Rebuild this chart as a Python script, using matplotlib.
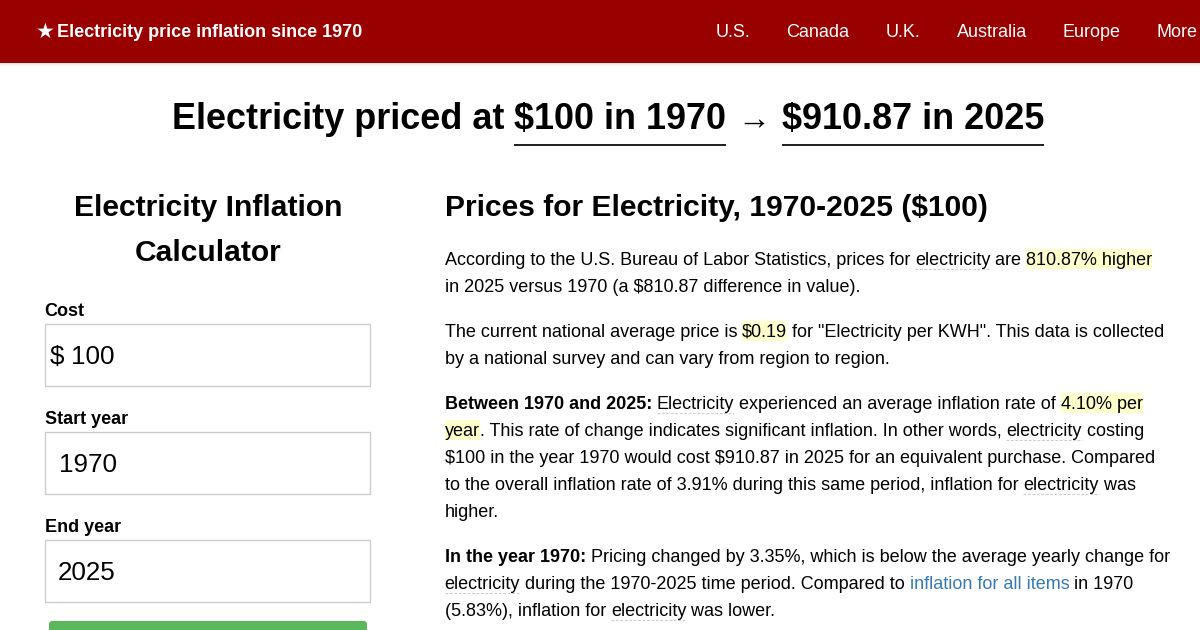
import matplotlib
matplotlib.use("Agg")
import matplotlib.pyplot as plt
from matplotlib.patches import Rectangle, FancyBboxPatch

plt.rcParams['font.family'] = ['Liberation Sans', 'DejaVu Sans']

NAV_RED = '#990000'
INK = '#000000'
LINK = '#337ab7'
HILITE = '#ffffcc'
BORDER = '#cccccc'
GREEN = '#5cb85c'

site_star = "★"
site_title = "Electricity price inflation since 1970"
nav_items = ["U.S.", "Canada", "U.K.", "Australia", "Europe", "More"]
nav_x = [716, 786.6, 886, 957, 1063, 1157]

field_labels = ["Cost", "Start year", "End year"]
field_values = ["100", "1970", "2025"]
field_top = [324, 432, 540]
field_value_x = [70.6, 58.6, 58.2]

# run styles: n normal, b bold, h highlight, d dashed underline, l link
body_lines = [
    (265, [("According to the U.S. Bureau of Labor Statistics, prices for ", 'n'), ("electricity", 'd'), (" are ", 'n'), ("810.87% higher", 'h')]),
    (292, [("in 2025 versus 1970 (a $810.87 difference in value).", 'n')]),
    (337, [("The current national average price is ", 'n'), ("$0.19", 'h'), (" for \"Electricity per KWH\". This data is collected", 'n')]),
    (364, [("by a national survey and can vary from region to region.", 'n')]),
    (409, [("Between 1970 and 2025:", 'b'), (" ", 'n'), ("Electricity", 'd'), (" experienced an average inflation rate of ", 'n'), ("4.10% per", 'h')]),
    (436, [("year", 'h'), (". This rate of change indicates significant inflation. In other words, ", 'n'), ("electricity", 'd'), (" costing", 'n')]),
    (463, [("$100 in the year 1970 would cost $910.87 in 2025 for an equivalent purchase. Compared", 'n')]),
    (490, [("to the overall inflation rate of 3.91% during this same period, inflation for ", 'n'), ("electricity", 'd'), (" was", 'n')]),
    (517, [("higher.", 'n')]),
    (562, [("In the year 1970:", 'b'), (" Pricing changed by 3.35%, which is below the average yearly change for", 'n')]),
    (589, [("electricity", 'd'), (" during the 1970-2025 time period. Compared to ", 'n'), ("inflation for all items", 'l'), (" in 1970", 'n')]),
    (616, [("(5.83%), inflation for ", 'n'), ("electricity", 'd'), (" was lower.", 'n')]),
]

fig = plt.figure(figsize=(12, 6.3), dpi=100, facecolor='white')
ax = fig.add_axes([0, 0, 1, 1])
ax.set_xlim(0, 1200)
ax.set_ylim(630, 0)
ax.axis('off')
rend = fig.canvas.get_renderer()


def pt(px):
    return px * 0.72


def width(s, px, weight='normal'):
    t = ax.text(0, 0, '|' + s + '|', fontsize=pt(px), fontweight=weight, parse_math=False)
    w = t.get_window_extent(rend).width
    t.set_text('||')
    w -= t.get_window_extent(rend).width
    t.remove()
    return w


def put(x, y, s, px, weight='normal', color=INK, ha='left', z=3):
    return ax.text(x, y, s, fontsize=pt(px), fontweight=weight, color=color,
                   ha=ha, va='baseline', zorder=z, parse_math=False)


# top bar with soft shadow
for i, a in enumerate([0.10, 0.06, 0.03]):
    ax.add_patch(Rectangle((0, 63 + i), 1200, 1, fc='black', alpha=a, lw=0, zorder=1))
ax.add_patch(Rectangle((0, 0), 1200, 63, fc=NAV_RED, lw=0, zorder=2))
put(35.5, 38, site_star, 21, 'normal', 'white')
put(57, 37, site_title, 18, 'bold', 'white')
for x, s in zip(nav_x, nav_items):
    put(x, 37, s, 18, color='white')

# headline
put(172, 129, "Electricity priced at", 36, 'bold')
put(514, 129, "$100 in 1970", 36, 'bold')
put(737, 129, "→", 33)
put(782, 129, "$910.87 in 2025", 36, 'bold')
for x0, x1 in [(514, 726), (782, 1044)]:
    ax.add_patch(Rectangle((x0, 144), x1 - x0, 2, fc='#222222', lw=0, zorder=2))

# calculator column
put(208, 216, "Electricity Inflation", 30, 'bold', ha='center')
put(208, 261, "Calculator", 30, 'bold', ha='center')
for lab, val, top, vx in zip(field_labels, field_values, field_top, field_value_x):
    put(44.6, top - 8, lab, 18, 'bold')
    ax.add_patch(Rectangle((45, top), 325, 62, fc='white', ec=BORDER, lw=1, zorder=2))
    put(vx, top + 40, val, 26)
put(50, field_top[0] + 40, "$", 26)
ax.add_patch(FancyBboxPatch((49, 621), 318, 30, boxstyle='round,pad=0,rounding_size=3',
                            fc=GREEN, lw=0, zorder=2))

# article column
put(445, 216, "Prices for Electricity, 1970-2025 ($100)", 30, 'bold')
for y, runs in body_lines:
    x = 444.6
    for s, kind in runs:
        weight = 'bold' if kind == 'b' else 'normal'
        w = width(s, 18, weight)
        if kind == 'h':
            ax.add_patch(Rectangle((x, y - 16), w, 20, fc=HILITE, lw=0, zorder=1))
        if kind == 'd':
            ax.plot([x, x + w], [y + 4, y + 4], color=BORDER, lw=0.8,
                    dashes=(2.5, 1.5), zorder=2)
        put(x, y, s, 18, weight, LINK if kind == 'l' else INK)
        x += w

fig.savefig('out.png', dpi=100, facecolor='white')
